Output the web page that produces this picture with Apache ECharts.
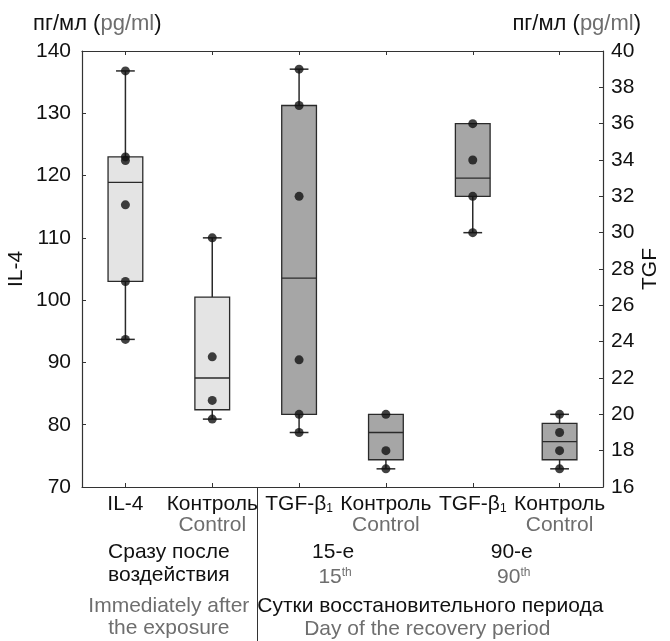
<!DOCTYPE html>
<html><head><meta charset="utf-8">
<script src="https://cdn.jsdelivr.net/npm/echarts@6/dist/echarts.min.js"></script>
<style>html,body{margin:0;padding:0;background:#fff}#c{width:670px;height:641px}</style>
</head><body><div id="c"></div>
<script>
// ---- data ----
const categories = ['IL-4', 'Контроль', 'TGF-β1', 'Контроль', 'TGF-β1', 'Контроль'];
const isControl = [false, true, false, true, false, true];
const leftTicks = [70, 80, 90, 100, 110, 120, 130, 140];
const rightTicks = [16, 18, 20, 22, 24, 26, 28, 30, 32, 34, 36, 38, 40];
// [category index, min, q1, median, q3, max]
const il4Boxes = [
  [0, 93.7, 103.0, 118.9, 123.0, 136.8],
  [1, 80.9, 82.4, 87.5, 100.5, 110.0]
];
const tgfBoxes = [
  [2, 19.0, 20.0, 27.5, 37.0, 39.0],
  [3, 17.0, 17.5, 19.0, 20.0, 20.0],
  [4, 30.0, 32.0, 33.0, 36.0, 36.0],
  [5, 17.0, 17.5, 18.5, 19.5, 20.0]
];
const il4Points = [
  [0, 93.7], [0, 103.0], [0, 115.3], [0, 122.4], [0, 123.0], [0, 136.8],
  [1, 80.9], [1, 83.9], [1, 90.9], [1, 110.0]
];
const tgfPoints = [
  [2, 19.0], [2, 20.0], [2, 23.0], [2, 32.0], [2, 37.0], [2, 39.0],
  [3, 17.0], [3, 18.0], [3, 20.0],
  [4, 30.0], [4, 32.0], [4, 34.0], [4, 36.0],
  [5, 17.0], [5, 18.0], [5, 19.0], [5, 20.0]
];

const FONT = 'Liberation Sans, Arial, sans-serif';
const chart = echarts.init(document.getElementById('c'), null, {renderer: 'canvas'});

function boxRenderer(fill) {
  return function (params, api) {
    const x = api.value(0);
    const v = [1, 2, 3, 4, 5].map(i => api.value(i));
    const p = v.map(val => api.coord([x, val]));
    const cx = p[0][0];
    const bw = api.size([1, 0])[0] * 0.4;
    const cap = bw * 0.27;
    const ln = {stroke: '#2a2a2a', lineWidth: 1.5};
    const ch = [];
    if (Math.abs(p[4][1] - p[3][1]) > 0.5) {
      ch.push({type: 'line', shape: {x1: cx, y1: p[3][1], x2: cx, y2: p[4][1]}, style: ln});
      ch.push({type: 'line', shape: {x1: cx - cap, y1: p[4][1], x2: cx + cap, y2: p[4][1]}, style: ln});
    }
    if (Math.abs(p[0][1] - p[1][1]) > 0.5) {
      ch.push({type: 'line', shape: {x1: cx, y1: p[1][1], x2: cx, y2: p[0][1]}, style: ln});
      ch.push({type: 'line', shape: {x1: cx - cap, y1: p[0][1], x2: cx + cap, y2: p[0][1]}, style: ln});
    }
    ch.push({type: 'rect', shape: {x: cx - bw / 2, y: p[3][1], width: bw, height: p[1][1] - p[3][1]},
      style: {fill: fill, stroke: '#2a2a2a', lineWidth: 1.3}});
    ch.push({type: 'line', shape: {x1: cx - bw / 2, y1: p[2][1], x2: cx + bw / 2, y2: p[2][1]},
      style: {stroke: '#2a2a2a', lineWidth: 1.3}});
    return {type: 'group', children: ch};
  };
}

const axisLineStyle = {show: true, lineStyle: {color: '#333', width: 1.2}};

const option = {
  backgroundColor: '#fff',
  animation: false,
  textStyle: {fontFamily: FONT},
  grid: {left: 82, right: 67, top: 51, bottom: 154, containLabel: false, outerBoundsMode: 'none'},
  xAxis: [{
    type: 'category', data: categories, position: 'bottom',
    axisLine: axisLineStyle,
    axisTick: {show: true, inside: true, length: 4, alignWithLabel: true, lineStyle: {color: '#333'}},
    axisLabel: {
      interval: 0, margin: 7, fontSize: 21, color: '#111', fontFamily: FONT, lineHeight: 21, hideOverlap: false,
      formatter: function (val, idx) {
        let s = val.indexOf('TGF') === 0 ? 'TGF-β{sub|1}' : val;
        if (isControl[idx]) s += '\n{g|Control}';
        return s;
      },
      rich: {
        g: {color: '#6e6e6e', fontSize: 21, lineHeight: 21, fontFamily: FONT},
        sub: {fontSize: 12, fontFamily: FONT, color: '#111', verticalAlign: 'bottom', lineHeight: 21, padding: [12, 0, 0, 0]}
      }
    },
    splitLine: {show: false}
  }, {
    type: 'category', data: categories, position: 'top',
    axisLine: axisLineStyle,
    axisTick: {show: true, inside: true, length: 4, alignWithLabel: true, lineStyle: {color: '#333'}},
    axisLabel: {show: false}, splitLine: {show: false}
  }],
  yAxis: [{
    type: 'value', min: leftTicks[0], max: leftTicks[leftTicks.length - 1], interval: 10, position: 'left',
    name: 'IL-4', nameLocation: 'middle', nameGap: 55, nameRotate: 90, nameMoveOverlap: false,
    nameTextStyle: {fontSize: 21, color: '#111', fontFamily: FONT},
    axisLine: axisLineStyle,
    axisTick: {show: true, inside: true, length: 4, lineStyle: {color: '#333'}},
    axisLabel: {fontSize: 21, color: '#111', margin: 11, fontFamily: FONT},
    splitLine: {show: false}
  }, {
    type: 'value', min: rightTicks[0], max: rightTicks[rightTicks.length - 1], interval: 2, position: 'right',
    name: 'TGF', nameLocation: 'middle', nameGap: 37, nameRotate: 90, nameMoveOverlap: false,
    nameTextStyle: {fontSize: 21, color: '#111', fontFamily: FONT},
    axisLine: axisLineStyle,
    axisTick: {show: true, inside: true, length: 4, lineStyle: {color: '#333'}},
    axisLabel: {fontSize: 21, color: '#111', margin: 8, fontFamily: FONT},
    splitLine: {show: false}
  }],
  series: [{
    type: 'custom', name: 'IL-4 box', xAxisIndex: 0, yAxisIndex: 0,
    renderItem: boxRenderer('#e4e4e4'), data: il4Boxes,
    encode: {x: 0, y: [1, 2, 3, 4, 5]}, z: 2
  }, {
    type: 'custom', name: 'TGF box', xAxisIndex: 0, yAxisIndex: 1,
    renderItem: boxRenderer('#a6a6a6'), data: tgfBoxes,
    encode: {x: 0, y: [1, 2, 3, 4, 5]}, z: 2
  }, {
    type: 'scatter', xAxisIndex: 0, yAxisIndex: 0, data: il4Points,
    symbol: 'circle', symbolSize: 9, itemStyle: {color: '#111'}, z: 5
  }, {
    type: 'scatter', xAxisIndex: 0, yAxisIndex: 1, data: tgfPoints,
    symbol: 'circle', symbolSize: 9, itemStyle: {color: '#111'}, z: 5
  }]
};
chart.setOption(option);

// annotations under the axis
const px = i => chart.convertToPixel({xAxisIndex: 0}, i);
const axisY = chart.convertToPixel({yAxisIndex: 0}, leftTicks[0]);
const sepX = Math.round((px(1) + px(2)) / 2) + 1.5;
const leftMid = (px(0) + px(1)) / 2;
const rightMid = (px(2) + px(5)) / 2;
const F = '21px ' + FONT;
const t = (x, y, text, color) => ({
  type: 'text', x: x, y: y,
  style: {text: text, fill: color, font: F, align: 'center', verticalAlign: 'middle'}
});
const gray = '#6e6e6e', black = '#111';
const supRich = {s: {fontSize: 12, fill: gray, verticalAlign: 'top', padding: [0, 0, 9, 0]}};
chart.setOption({
  graphic: [
    {type: 'line', shape: {x1: sepX, y1: axisY, x2: sepX, y2: 641}, style: {stroke: '#333', lineWidth: 1}},
    t(leftMid, 552, 'Сразу после', black),
    t(leftMid, 575, 'воздействия', black),
    t(leftMid, 606, 'Immediately after', gray),
    t(leftMid, 628, 'the exposure', gray),
    t(px(2) + 34, 552, '15-е', black),
    {type: 'text', x: px(2) + 36, y: 577, style: {
      text: '15{s|th}', fill: gray, font: F, align: 'center', verticalAlign: 'middle', rich: supRich}},
    t(px(4) + 39, 552, '90-е', black),
    {type: 'text', x: px(4) + 41, y: 577, style: {
      text: '90{s|th}', fill: gray, font: F, align: 'center', verticalAlign: 'middle', rich: supRich}},
    t(rightMid + 1, 606, 'Сутки восстановительного периода', black),
    t(rightMid - 2, 629, 'Day of the recovery period', gray),
    {type: 'text', x: 33, y: 24, style: {
      text: 'пг/мл ({p|pg/ml})', fill: black, font: '22px ' + FONT, align: 'left', verticalAlign: 'middle',
      rich: {p: {fill: gray, fontSize: 22, fontFamily: FONT}}}},
    {type: 'text', x: 641, y: 24, style: {
      text: 'пг/мл ({p|pg/ml})', fill: black, font: '22px ' + FONT, align: 'right', verticalAlign: 'middle',
      rich: {p: {fill: gray, fontSize: 22, fontFamily: FONT}}}}
  ]
});
</script></body></html>
